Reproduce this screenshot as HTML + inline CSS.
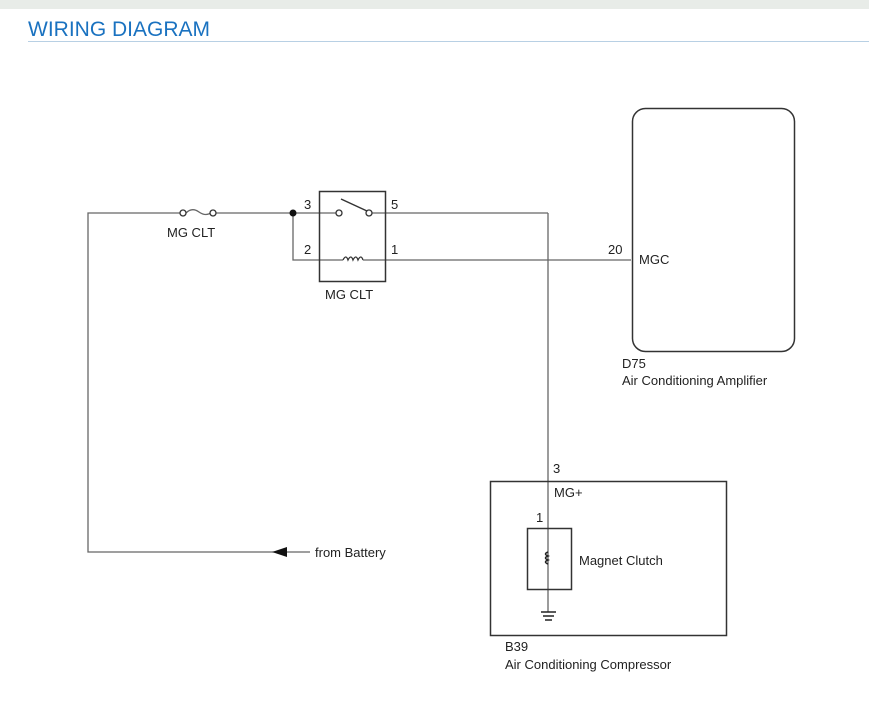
<!DOCTYPE html>
<html><head><style>
body{margin:0;background:#fff;width:869px;height:710px;overflow:hidden}
text{font-family:"Liberation Sans",sans-serif;fill:#222}
</style></head><body>
<svg width="869" height="710" viewBox="0 0 869 710">
<rect x="0" y="0" width="869" height="9" fill="#e8ece8"/>
<text x="28" y="36" font-size="21" style="fill:#1a72c0">WIRING DIAGRAM</text>
<line x1="28" y1="41.5" x2="869" y2="41.5" stroke="#b8d0e4" stroke-width="1"/>
<g stroke="#666" stroke-width="1.3" fill="none">
<polyline points="310,552 88,552 88,213 180,213"/>
<path d="M186,213 q6,-6 13,-1 q7,5 13,0"/>
<line x1="216" y1="213" x2="336" y2="213"/>
<polyline points="293,213 293,260 343,260"/>
<path d="M343,260 q3,-6 5,0 q3,-6 5,0 q3,-6 5,0 q3,-6 5,0" stroke="#333"/>
<line x1="363" y1="260" x2="631" y2="260"/>
<line x1="372" y1="213" x2="548" y2="213"/>
<line x1="548" y1="213" x2="548" y2="612"/>
</g>
<g fill="#fff" stroke="#333" stroke-width="1.3">
<circle cx="183" cy="213" r="3"/><circle cx="213" cy="213" r="3"/>
<circle cx="339" cy="213" r="3"/><circle cx="369" cy="213" r="3"/>
</g>
<line x1="341" y1="199" x2="367" y2="211" stroke="#333" stroke-width="1.5"/>
<circle cx="293" cy="213" r="3.5" fill="#111"/>
<rect x="319.5" y="191.5" width="66" height="90" fill="none" stroke="#333" stroke-width="1.5"/>
<polygon points="272,552 287,547 287,557" fill="#111"/>
<rect x="632.5" y="108.5" width="162" height="243" rx="13" fill="none" stroke="#333" stroke-width="1.5"/>
<rect x="490.5" y="481.5" width="236" height="154" fill="none" stroke="#333" stroke-width="1.5"/>
<rect x="527.5" y="528.5" width="44" height="61" fill="none" stroke="#333" stroke-width="1.5"/>
<path d="M548,552 q-5,2 0,4 q-5,2 0,4 q-5,2 0,4" fill="none" stroke="#222" stroke-width="1.5"/>
<g stroke="#222" stroke-width="1.5"><line x1="541" y1="612" x2="556" y2="612"/><line x1="543" y1="616" x2="554" y2="616"/><line x1="545" y1="620" x2="552" y2="620"/></g>
<g font-size="13">
<text x="167" y="237">MG CLT</text>
<text x="325" y="299">MG CLT</text>
<text x="304" y="209">3</text><text x="304" y="254">2</text>
<text x="391" y="209">5</text><text x="391" y="254">1</text>
<text x="608" y="254">20</text>
<text x="639" y="264">MGC</text>
<text x="622" y="368">D75</text>
<text x="622" y="385">Air Conditioning Amplifier</text>
<text x="553" y="473">3</text>
<text x="554" y="497">MG+</text>
<text x="536" y="522">1</text>
<text x="579" y="565">Magnet Clutch</text>
<text x="505" y="651">B39</text>
<text x="505" y="669">Air Conditioning Compressor</text>
<text x="315" y="557">from Battery</text>
</g>
</svg>
</body></html>
